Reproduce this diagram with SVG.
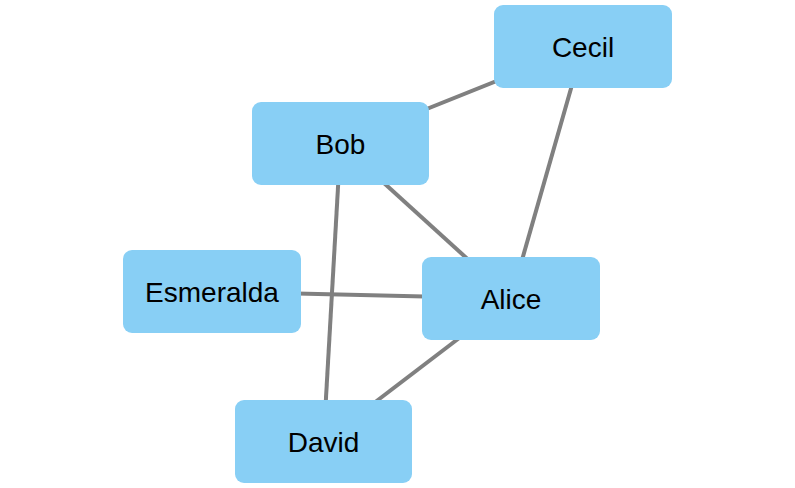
<svg xmlns="http://www.w3.org/2000/svg" width="795" height="488" viewBox="0 0 795 488">
<style>
.node rect{fill:#88CFF5;}
.node text{font-family:"Liberation Sans",Arial,sans-serif;font-size:28px;fill:#000;text-anchor:middle;}
.edges line{stroke:#808080;stroke-width:4;}
</style>
<rect width="795" height="488" fill="#fff"/>
<g id="edges" class="edges">
<line x1="340.5" y1="143.5" x2="583" y2="46.5"/>
<line x1="340.5" y1="143.5" x2="323.5" y2="441.5"/>
<line x1="340.5" y1="143.5" x2="511" y2="298.5"/>
<line x1="583" y1="46.5" x2="511" y2="298.5"/>
<line x1="212" y1="291.5" x2="511" y2="298.5"/>
<line x1="511" y1="298.5" x2="323.5" y2="441.5"/>
</g>
<g id="node-cecil" class="node"><rect x="494" y="5" width="178" height="83" rx="9"/><text x="583" y="57">Cecil</text></g>
<g id="node-bob" class="node"><rect x="252" y="102" width="177" height="83" rx="9"/><text x="340.5" y="154">Bob</text></g>
<g id="node-esmeralda" class="node"><rect x="123" y="250" width="178" height="83" rx="9"/><text x="212" y="302">Esmeralda</text></g>
<g id="node-alice" class="node"><rect x="422" y="257" width="178" height="83" rx="9"/><text x="511" y="309">Alice</text></g>
<g id="node-david" class="node"><rect x="235" y="400" width="177" height="83" rx="9"/><text x="323.5" y="452">David</text></g>
</svg>
